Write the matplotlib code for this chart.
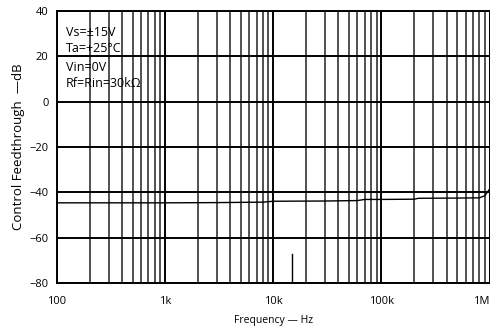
import numpy as np
import matplotlib
matplotlib.use("Agg")
import matplotlib.pyplot as plt
from matplotlib.ticker import LogLocator, NullFormatter

plt.rcParams['font.family'] = ['Open Sans', 'DejaVu Sans']

# curva
freq = [100, 300, 1000, 3000, 8000, 10000, 30000, 60000, 70000, 100000,
        200000, 220000, 500000, 800000, 900000, 1000000]
feed = [-44.6, -44.6, -44.6, -44.5, -44.3, -43.9, -43.8, -43.6, -43.1, -43.1,
        -43.0, -42.6, -42.5, -42.4, -41.5, -38.5]

# traço curto perto de 15k (artefato do original)
spike_f = [15000, 15000]
spike_db = [-80, -67]

xticks = [100, 1000, 10000, 100000, 1000000]
xlabels = ["100", "1k", "10k", "100k", "1M"]
yticks = [40, 20, 0, -20, -40, -60, -80]

fig = plt.figure(figsize=(4.9, 3.35), dpi=100)
ax = fig.add_axes([0.1163, 0.155, 0.883, 0.812])

ax.plot(freq, feed, color='black', lw=1.0)
ax.plot(spike_f, spike_db, color='black', lw=1.0)

ax.set_xscale('log')
ax.set_xlim(100, 1e6)
ax.set_ylim(-80, 40)
ax.set_xticks(xticks)
ax.set_xticklabels(xlabels)
ax.get_xticklabels()[-1].set_ha('right')
ax.xaxis.set_minor_locator(LogLocator(base=10, subs=np.arange(2, 10)))
ax.xaxis.set_minor_formatter(NullFormatter())
ax.set_yticks(yticks)

ax.grid(True, which='major', axis='both', color='black', lw=1.4)
ax.grid(True, which='minor', axis='x', color='#333333', lw=1.2)
ax.tick_params(which='both', length=0, labelsize=8, pad=6)
ax.tick_params(axis='x', pad=9)
for s in ax.spines.values():
    s.set_linewidth(1.4)

ax.set_xlabel("Frequency — Hz", fontsize=7.5, labelpad=6)
ax.set_ylabel("Control Feedthrough  —dB", fontsize=9.5, labelpad=3)

ax.text(0.02, 0.945, "Vs=±15V\nTa=+25°C", transform=ax.transAxes, fontsize=9,
        va='top', linespacing=1.3)
ax.text(0.02, 0.815, "Vin=0V\nRf=Rin=30kΩ", transform=ax.transAxes, fontsize=9,
        va='top', linespacing=1.3)

plt.savefig("out.png", dpi=100)
